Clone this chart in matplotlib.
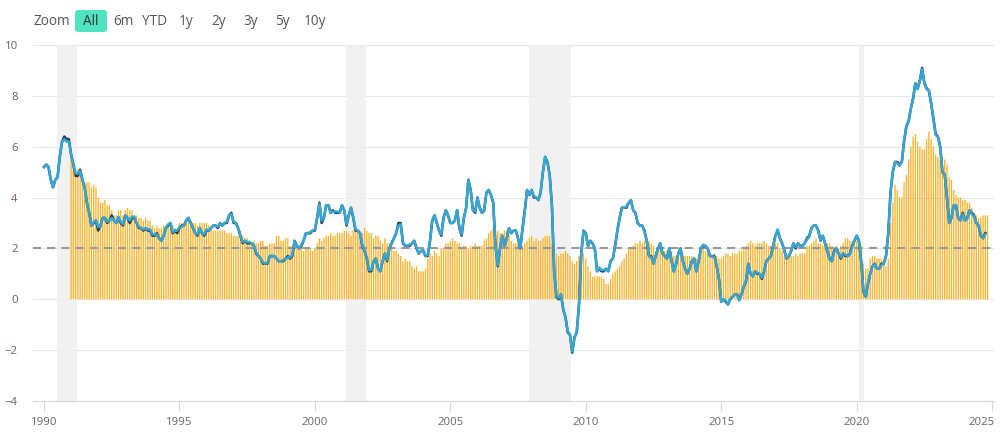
import matplotlib
matplotlib.use("Agg")
import matplotlib.pyplot as plt
from matplotlib.patches import FancyBboxPatch
from matplotlib.transforms import IdentityTransform, ScaledTranslation

plt.rcParams['font.family'] = ['Open Sans', 'DejaVu Sans']

start_year = 1990
headline = [
 5.2,5.3,5.2,4.7,4.4,4.7,4.8,5.6,6.2,6.3,6.2,6.2,
 5.7,5.3,4.95,4.95,5.05,4.7,4.4,3.8,3.4,2.9,3.05,3.1,
 2.85,2.85,3.2,3.2,3.05,3.1,3.2,3.1,3.0,3.25,3.05,2.95,
 3.3,3.2,3.1,3.25,3.25,3.0,2.85,2.8,2.75,2.8,2.75,2.75,
 2.55,2.55,2.55,2.4,2.3,2.5,2.8,2.95,3.0,2.65,2.7,2.7,
 2.85,2.85,2.9,3.1,3.2,3.0,2.8,2.6,2.55,2.8,2.6,2.55,
 2.75,2.7,2.8,2.9,2.9,2.85,3.0,2.9,3.0,3.05,3.3,3.35,
 3.05,3.0,2.8,2.5,2.25,2.3,2.25,2.25,2.2,2.1,1.85,1.7,
 1.6,1.45,1.4,1.45,1.7,1.7,1.7,1.6,1.5,1.5,1.55,1.6,
 1.65,1.65,1.75,2.3,2.1,2.0,2.15,2.3,2.6,2.6,2.65,2.7,
 2.75,3.2,3.75,3.1,3.2,3.7,3.7,3.4,3.45,3.45,3.45,3.4,
 3.7,3.5,2.95,3.3,3.6,3.25,2.75,2.7,2.6,2.15,1.9,1.6,
 1.15,1.15,1.5,1.6,1.2,1.1,1.5,1.8,1.55,2.0,2.2,2.4,
 2.6,2.9,2.95,2.25,2.1,2.1,2.15,2.2,2.3,2.05,1.8,1.9,
 1.95,1.7,1.75,2.3,3.1,3.3,3.0,2.7,2.55,3.2,3.5,3.3,
 3.0,3.0,3.1,3.5,2.85,2.55,3.2,3.6,4.7,4.3,3.5,3.45,
 4.0,3.6,3.4,3.55,4.2,4.3,4.1,3.8,2.1,1.35,2.0,2.5,
 2.1,2.4,2.8,2.6,2.7,2.7,2.4,2.0,2.8,3.5,4.3,4.1,
 4.3,4.05,4.0,3.9,4.2,5.0,5.6,5.35,4.9,3.7,1.1,0.15,
 0.05,0.2,-0.35,-0.7,-1.25,-1.4,-2.05,-1.5,-1.3,-0.2,1.8,2.7,
 2.55,2.1,2.3,2.2,2.0,1.1,1.25,1.15,1.15,1.2,1.1,1.5,
 1.6,2.1,2.7,3.2,3.6,3.6,3.65,3.8,3.9,3.5,3.4,3.0,
 2.9,2.9,2.65,2.3,1.7,1.65,1.4,1.7,2.0,2.2,1.8,1.7,
 1.6,2.0,1.5,1.1,1.4,1.8,2.0,1.5,1.2,1.0,1.2,1.5,
 1.6,1.1,1.5,2.0,2.15,2.1,2.0,1.7,1.7,1.65,1.3,0.8,
 -0.1,0.0,-0.05,-0.2,0.0,0.1,0.2,0.2,-0.05,0.2,0.5,0.75,
 1.4,1.0,0.9,1.1,1.05,1.0,0.85,1.05,1.5,1.6,1.7,2.1,
 2.5,2.75,2.4,2.2,1.9,1.6,1.7,1.95,2.2,2.05,2.2,2.1,
 2.1,2.2,2.35,2.45,2.8,2.9,2.9,2.7,2.3,2.5,2.2,1.9,
 1.55,1.5,1.85,2.0,1.8,1.65,1.8,1.75,1.7,1.75,2.05,2.3,
 2.5,2.3,1.5,0.35,0.1,0.65,1.0,1.3,1.4,1.2,1.2,1.35,
 1.4,1.7,2.6,4.2,5.0,5.4,5.35,5.25,5.4,6.2,6.8,7.0,
 7.5,7.9,8.5,8.25,8.6,9.05,8.5,8.25,8.2,7.7,7.1,6.45,
 6.4,6.0,5.0,4.9,4.0,3.0,3.2,3.7,3.7,3.2,3.1,3.35,
 3.1,3.15,3.5,3.35,3.25,3.0,2.9,2.55,2.4,2.55,
]
headline_nsa = [
 5.2,5.3,5.2,4.7,4.4,4.7,4.8,5.6,6.2,6.4,6.3,6.3,
 5.7,5.3,4.85,4.85,5.1,4.7,4.4,3.8,3.4,2.9,3.0,3.1,
 2.7,2.9,3.2,3.2,3.0,3.1,3.3,3.1,3.0,3.2,3.0,2.9,
 3.3,3.2,3.0,3.2,3.2,3.0,2.8,2.8,2.7,2.8,2.7,2.7,
 2.5,2.5,2.6,2.4,2.3,2.5,2.8,2.9,3.0,2.6,2.7,2.6,
 2.8,2.9,2.9,3.1,3.2,3.0,2.8,2.6,2.5,2.8,2.6,2.5,
 2.7,2.7,2.8,2.9,2.9,2.8,3.0,2.9,3.0,3.0,3.3,3.4,
 3.0,3.0,2.8,2.5,2.2,2.3,2.2,2.2,2.2,2.1,1.8,1.7,
 1.6,1.4,1.4,1.4,1.7,1.7,1.7,1.6,1.5,1.5,1.5,1.6,
 1.7,1.6,1.7,2.3,2.1,2.0,2.1,2.3,2.6,2.6,2.6,2.7,
 2.7,3.2,3.8,3.0,3.2,3.7,3.7,3.4,3.5,3.4,3.4,3.4,
 3.7,3.5,2.9,3.3,3.6,3.2,2.7,2.7,2.6,2.1,1.9,1.6,
 1.1,1.1,1.5,1.6,1.2,1.1,1.5,1.8,1.5,2.0,2.2,2.4,
 2.6,3.0,3.0,2.2,2.1,2.1,2.1,2.2,2.3,2.0,1.8,1.9,
 1.9,1.7,1.7,2.3,3.1,3.3,3.0,2.7,2.5,3.2,3.5,3.3,
 3.0,3.0,3.1,3.5,2.8,2.5,3.2,3.6,4.7,4.3,3.5,3.4,
 4.0,3.6,3.4,3.5,4.2,4.3,4.1,3.8,2.1,1.3,2.0,2.5,
 2.1,2.4,2.8,2.6,2.7,2.7,2.4,2.0,2.8,3.5,4.3,4.1,
 4.3,4.0,4.0,3.9,4.2,5.0,5.6,5.4,4.9,3.7,1.1,0.1,
 0.0,0.2,-0.4,-0.7,-1.3,-1.4,-2.1,-1.5,-1.3,-0.2,1.8,2.7,
 2.6,2.1,2.3,2.2,2.0,1.1,1.2,1.1,1.1,1.2,1.1,1.5,
 1.6,2.1,2.7,3.2,3.6,3.6,3.6,3.8,3.9,3.5,3.4,3.0,
 2.9,2.9,2.7,2.3,1.7,1.7,1.4,1.7,2.0,2.2,1.8,1.7,
 1.6,2.0,1.5,1.1,1.4,1.8,2.0,1.5,1.2,1.0,1.2,1.5,
 1.6,1.1,1.5,2.0,2.1,2.1,2.0,1.7,1.7,1.7,1.3,0.8,
 -0.1,0.0,-0.1,-0.2,0.0,0.1,0.2,0.2,0.0,0.2,0.5,0.7,
 1.4,1.0,0.9,1.1,1.0,1.0,0.8,1.1,1.5,1.6,1.7,2.1,
 2.5,2.7,2.4,2.2,1.9,1.6,1.7,1.9,2.2,2.0,2.2,2.1,
 2.1,2.2,2.4,2.5,2.8,2.9,2.9,2.7,2.3,2.5,2.2,1.9,
 1.6,1.5,1.9,2.0,1.8,1.6,1.8,1.7,1.7,1.8,2.1,2.3,
 2.5,2.3,1.5,0.3,0.1,0.6,1.0,1.3,1.4,1.2,1.2,1.4,
 1.4,1.7,2.6,4.2,5.0,5.4,5.4,5.3,5.4,6.2,6.8,7.0,
 7.5,7.9,8.5,8.3,8.6,9.1,8.5,8.3,8.2,7.7,7.1,6.5,
 6.4,6.0,5.0,4.9,4.0,3.0,3.2,3.7,3.7,3.2,3.1,3.4,
 3.1,3.2,3.5,3.4,3.3,3.0,2.9,2.5,2.4,2.6,
]
bar_start_year = 1991
core = [
 5.6,5.2,5.1,5.1,4.9,4.8,4.6,4.6,4.6,4.4,4.5,4.4,
 4.0,3.8,3.8,3.9,3.7,3.7,3.5,3.3,3.3,3.5,3.5,3.3,
 3.5,3.6,3.5,3.5,3.3,3.3,3.2,3.2,3.1,3.2,3.1,3.1,
 2.9,2.8,2.9,2.8,2.8,2.9,2.9,2.9,3.0,2.9,2.8,2.6,
 3.0,3.0,3.0,3.0,3.1,3.0,3.0,3.0,2.9,3.0,3.0,3.0,
 3.0,2.9,2.8,2.7,2.7,2.7,2.7,2.7,2.7,2.6,2.6,2.6,
 2.5,2.5,2.5,2.7,2.5,2.4,2.4,2.2,2.2,2.3,2.2,2.2,
 2.3,2.3,2.1,2.1,2.2,2.2,2.2,2.5,2.5,2.3,2.3,2.4,
 2.4,2.1,2.1,2.2,2.0,2.1,2.1,1.9,2.0,2.0,2.0,1.9,
 2.0,2.2,2.4,2.3,2.4,2.5,2.5,2.6,2.5,2.5,2.6,2.6,
 2.6,2.7,2.7,2.6,2.5,2.7,2.7,2.7,2.6,2.6,2.8,2.7,
 2.6,2.6,2.4,2.5,2.5,2.3,2.2,2.4,2.2,2.2,2.0,1.9,
 1.9,1.8,1.7,1.5,1.6,1.5,1.5,1.3,1.2,1.3,1.1,1.1,
 1.1,1.2,1.6,1.8,1.7,1.9,1.8,1.7,2.0,2.0,2.2,2.2,
 2.3,2.4,2.3,2.2,2.2,2.0,2.1,2.1,2.0,2.1,2.1,2.2,
 2.1,2.1,2.1,2.3,2.4,2.6,2.7,2.8,2.9,2.7,2.6,2.6,
 2.7,2.7,2.5,2.3,2.2,2.2,2.2,2.1,2.1,2.2,2.3,2.4,
 2.5,2.3,2.4,2.3,2.3,2.4,2.5,2.5,2.5,2.2,2.0,1.8,
 1.7,1.8,1.8,1.9,1.8,1.7,1.5,1.4,1.5,1.7,1.7,1.8,
 1.6,1.3,1.1,0.9,0.9,0.9,0.9,0.9,0.8,0.6,0.6,0.8,
 1.0,1.1,1.2,1.3,1.5,1.6,1.8,2.0,2.0,2.1,2.2,2.2,
 2.3,2.2,2.3,2.3,2.3,2.2,2.1,1.9,2.0,2.0,1.9,1.9,
 1.9,2.0,1.9,1.7,1.7,1.6,1.7,1.8,1.7,1.7,1.7,1.7,
 1.6,1.6,1.7,1.8,2.0,1.9,1.9,1.7,1.7,1.8,1.7,1.6,
 1.6,1.7,1.8,1.8,1.7,1.8,1.8,1.8,1.9,1.9,2.0,2.1,
 2.2,2.3,2.2,2.1,2.2,2.2,2.2,2.3,2.2,2.1,2.1,2.2,
 2.2,2.2,2.0,1.9,1.7,1.7,1.7,1.7,1.7,1.8,1.7,1.8,
 1.8,1.8,2.1,2.1,2.2,2.3,2.4,2.2,2.2,2.1,2.2,2.2,
 2.2,2.1,2.0,2.1,2.0,2.1,2.2,2.4,2.4,2.3,2.3,2.3,
 2.3,2.4,2.1,1.4,1.2,1.2,1.6,1.7,1.7,1.6,1.6,1.6,
 1.4,1.3,1.6,3.0,3.8,4.5,4.3,4.0,4.0,4.6,4.9,5.5,
 6.0,6.4,6.5,6.2,6.0,5.9,5.9,6.3,6.6,6.3,6.0,5.7,
 5.6,5.5,5.6,5.5,5.3,4.8,4.7,4.3,4.1,4.0,4.0,3.9,
 3.9,3.8,3.8,3.6,3.4,3.3,3.2,3.2,3.3,3.3,3.3,
]
recessions = [(1990.48, 1991.22), (2001.14, 2001.89), (2007.895, 2009.456), (2020.09, 2020.27)]
target = 2
y_ticks = [-4, -2, 0, 2, 4, 6, 8, 10]
x_ticks = [1990, 1995, 2000, 2005, 2010, 2015, 2020, 2025]
range_labels = ['6m', 'YTD', '1y', '2y', '3y', '5y', '10y']

W, H = 1000, 433
fig = plt.figure(figsize=(W/100, H/100), dpi=100)
L, R, T, B = 33, 994, 45, 401
ax = fig.add_axes([L/W, 1-B/H, (R-L)/W, (B-T)/H])
ax.set_ylim(-4, 10)
ax.set_xlim(1989.594, 2025.07)

ax.set_yticks(y_ticks)
ax.set_xticks(x_ticks)
ax.grid(axis='y', color='#e6e6e6', lw=0.8, zorder=0)
ax.set_axisbelow(True)
ax.axhspan(7.9, 8.1, xmin=52/961, xmax=266/961, color='white', lw=0, zorder=0.5)

for a, b in recessions:
    ax.axvspan(a, b, color='#f0f0f0', alpha=0.9, lw=0, zorder=1)

bx = [bar_start_year + i/12 for i in range(len(core))]
bars = ax.bar(bx, core, width=0.05, color='#f9b430', lw=0, zorder=2)
for b in bars:
    b.set_snap(False)
ax.axhline(target, color='#999999', lw=1.5, dashes=(3.9, 2.9), zorder=3)

lx = [start_year + i/12 for i in range(len(headline))]
ax.plot(lx, headline_nsa, color='#2f3b52', lw=1.8, zorder=4, solid_joinstyle='round')
ax.plot(lx, headline, color='#36a6d2', lw=1.8, zorder=5, solid_joinstyle='round')

for s in ['top', 'left', 'right']:
    ax.spines[s].set_visible(False)
ax.spines['bottom'].set_color('#d8d8d8')
ax.spines['bottom'].set_linewidth(0.8)
ax.tick_params(axis='y', length=0, pad=11, labelsize=8.2, labelcolor='#6e5f5f')
ax.tick_params(axis='x', length=7.2, width=0.8, color='#d8d8d8', pad=4, labelsize=8.2, labelcolor='#666666')

last = ax.get_xticklabels()[-1]
last.set_ha('right')
last.set_transform(last.get_transform() + ScaledTranslation(2/100, 0, fig.dpi_scale_trans))

def px(x, y):
    return x/W, 1-y/H

fig.patches.append(FancyBboxPatch((75, H-32), 32, 22, boxstyle='round,pad=0,rounding_size=3',
                                  transform=IdentityTransform(), fc='#4fe3c1', ec='none'))
fig.text(*px(33, 21.5), 'Zoom', fontsize=9.8, color='#555555', va='center', ha='left')
fig.text(*px(91, 21.5), 'All', fontsize=9.8, color='#333333', va='center', ha='center')
centers = [123, 154.5, 186.5, 219, 250.5, 282.5, 315]
for c, t in zip(centers, range_labels):
    fig.text(*px(c, 21.5), t, fontsize=9.8, color='#555555', va='center', ha='center')

fig.savefig('out.png', dpi=100)
